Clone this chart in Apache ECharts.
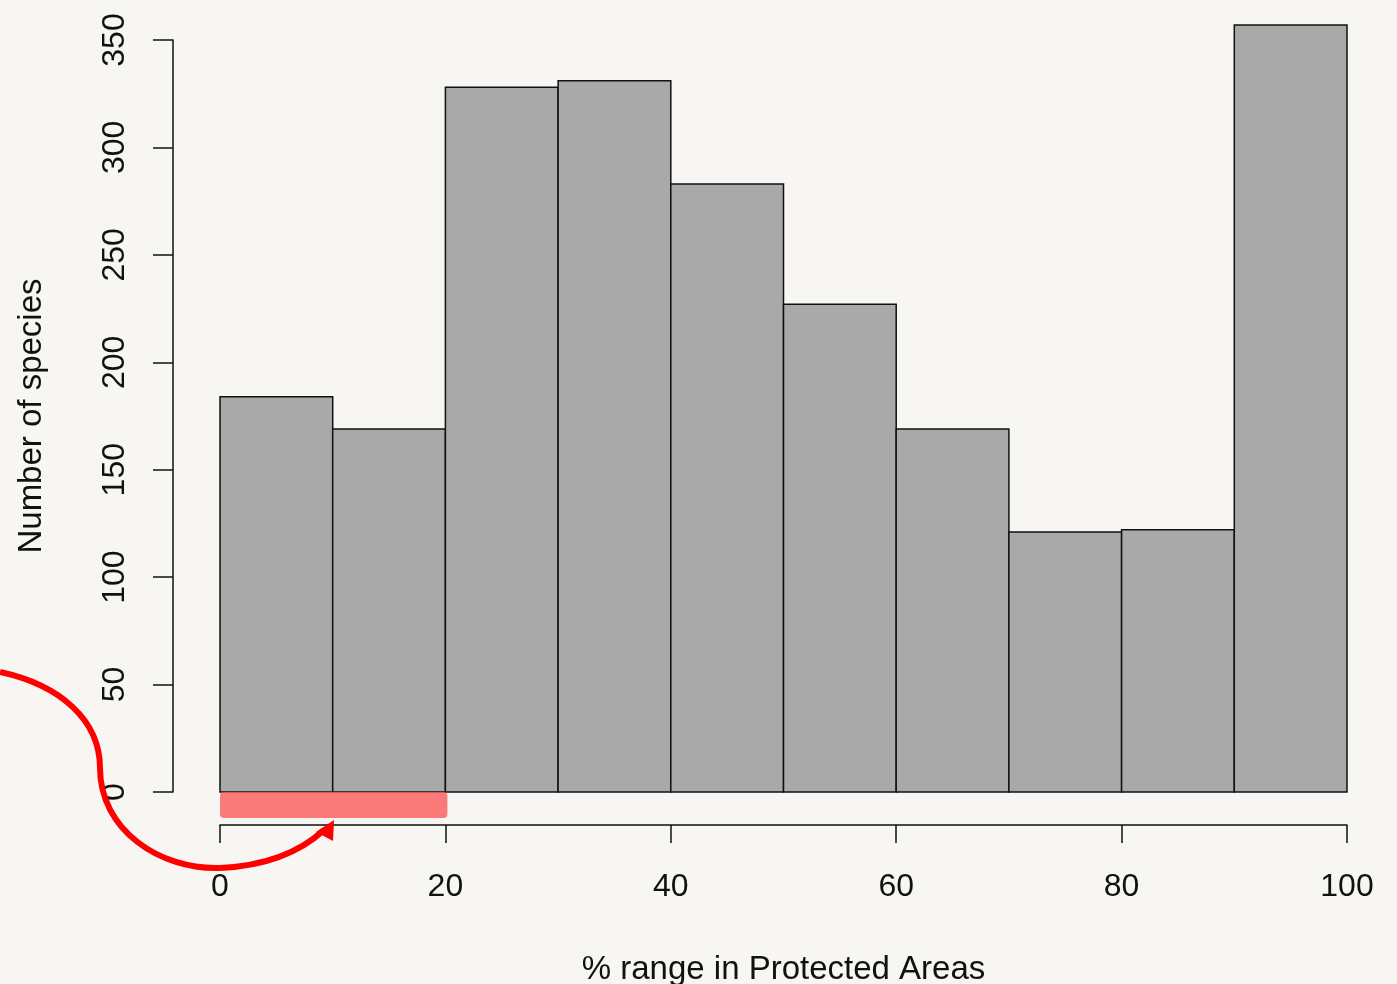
<!DOCTYPE html>
<html>
<head>
<meta charset="utf-8">
<script src="https://cdn.jsdelivr.net/npm/echarts@6/dist/echarts.min.js"></script>
<style>
  html, body { margin: 0; padding: 0; background: #f7f6f3; }
  #chart { width: 1397px; height: 984px; }
</style>
</head>
<body>
<div id="chart"></div>
<script>
// histogram bins (% range in Protected Areas) and counts
var binStart = [0, 10, 20, 30, 40, 50, 60, 70, 80, 90];
var binWidth = 10;
var counts = [184, 169, 328, 331, 283, 227, 169, 121, 122, 357];
var xTicks = [0, 20, 40, 60, 80, 100];
var yTicks = [0, 50, 100, 150, 200, 250, 300, 350];
// highlighted range under the axis
var highlightRange = [0, 20];

var chart = echarts.init(document.getElementById('chart'));

var option = {
  backgroundColor: '#f7f6f3',
  animation: false,
  grid: { left: 220, right: 50, top: 40, bottom: 192, outerBoundsMode: 'none', containLabel: false },
  xAxis: {
    type: 'value',
    min: xTicks[0],
    max: xTicks[xTicks.length - 1],
    interval: 20,
    offset: 33,
    splitLine: { show: false },
    axisLine: { onZero: false, lineStyle: { color: '#111', width: 1.5 } },
    axisTick: { length: 18, lineStyle: { color: '#111', width: 1.5 } },
    axisLabel: { margin: 46, color: '#111', fontSize: 32, fontFamily: 'Liberation Sans' },
    name: '% range in Protected Areas',
    nameLocation: 'middle',
    nameGap: 128,
    nameTextStyle: { color: '#111', fontSize: 33, fontFamily: 'Liberation Sans' }
  },
  yAxis: {
    type: 'value',
    min: yTicks[0],
    max: yTicks[yTicks.length - 1],
    interval: 50,
    offset: 47,
    splitLine: { show: false },
    axisLine: { show: true, onZero: false, lineStyle: { color: '#111', width: 1.5 } },
    axisTick: { show: true, length: 20, lineStyle: { color: '#111', width: 1.5 } },
    axisLabel: { rotate: 90, margin: 42, color: '#111', fontSize: 32, fontFamily: 'Liberation Sans' },
    name: 'Number of species',
    nameLocation: 'middle',
    nameRotate: 90,
    nameGap: 125,
    nameTextStyle: { color: '#111', fontSize: 33, fontFamily: 'Liberation Sans' }
  },
  series: [{
    type: 'custom',
    clip: false,
    data: binStart.map(function (s, i) { return [s, s + binWidth, counts[i]]; }),
    encode: { x: [0, 1], y: 2 },
    renderItem: function (params, api) {
      var p0 = api.coord([api.value(0), 0]);
      var p1 = api.coord([api.value(1), api.value(2)]);
      return {
        type: 'rect',
        shape: { x: p0[0], y: p1[1], width: p1[0] - p0[0], height: p0[1] - p1[1] },
        style: { fill: '#a9a9a9', stroke: '#111', lineWidth: 1.5 }
      };
    }
  }]
};
chart.setOption(option);

// red annotation bar and curved arrow
var a = chart.convertToPixel({ gridIndex: 0 }, [highlightRange[0], 0]);
var b = chart.convertToPixel({ gridIndex: 0 }, [highlightRange[1], 0]);
var arrowStyle = { fill: null, stroke: '#f00', lineWidth: 6 };
chart.setOption({
  graphic: [
    {
      type: 'rect',
      shape: { x: a[0], y: a[1], width: b[0] - a[0] + 2, height: 26, r: 4 },
      style: { fill: 'rgba(250,90,90,0.8)' },
      z: 10
    },
    {
      type: 'bezierCurve',
      shape: { x1: 0, y1: 672, cpx1: 60, cpy1: 685, cpx2: 100, cpy2: 720, x2: 100, y2: 768 },
      style: arrowStyle,
      z: 10
    },
    {
      type: 'bezierCurve',
      shape: { x1: 100, y1: 768, cpx1: 100, cpy1: 830, cpx2: 160, cpy2: 870, x2: 220, y2: 868 },
      style: arrowStyle,
      z: 10
    },
    {
      type: 'bezierCurve',
      shape: { x1: 220, y1: 868, cpx1: 265, cpy1: 866, cpx2: 300, cpy2: 852, x2: 324, y2: 830 },
      style: arrowStyle,
      z: 10
    },
    {
      type: 'polygon',
      shape: { points: [[334, 820], [316, 832], [333, 841]] },
      style: { fill: '#f00' },
      z: 10
    }
  ]
});
window.onresize = chart.resize;
</script>
</body>
</html>
